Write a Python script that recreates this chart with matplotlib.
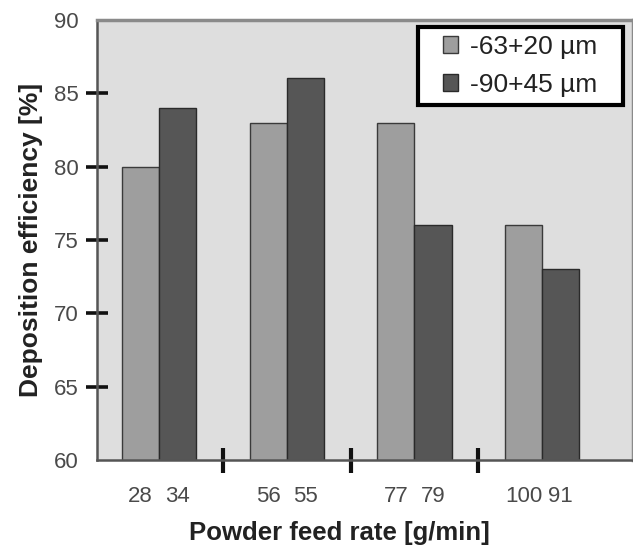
import matplotlib
matplotlib.use("Agg")
import matplotlib.pyplot as plt
from matplotlib.patches import Rectangle
import numpy as np

groups = [0, 1, 2, 3]
fine_values = [80, 83, 83, 76]
coarse_values = [84, 86, 76, 73]
fine_rates = ["28", "56", "77", "100"]
coarse_rates = ["34", "55", "79", "91"]
series_labels = ["-63+20 µm", "-90+45 µm"]
yticks = [60, 65, 70, 75, 80, 85, 90]

plt.rcParams['font.family'] = ['Liberation Sans', 'DejaVu Sans']

fig = plt.figure(figsize=(6.33, 5.49), dpi=100)
ax = fig.add_axes([0.153, 0.162, 0.847, 0.802])
ax.set_facecolor('#dedede')

w = 0.29
x = np.array(groups, dtype=float)
ax.bar(x - w / 2, fine_values, w, color='#9e9e9e', edgecolor='#3a3a3a', linewidth=1.0,
       label=series_labels[0], zorder=2)
ax.bar(x + w / 2, coarse_values, w, color='#565656', edgecolor='#2a2a2a', linewidth=1.0,
       label=series_labels[1], zorder=2)

ax.set_ylim(60, 90)
ax.set_xlim(-0.485, 3.71)

ax.set_yticks(yticks)
ax.set_yticklabels([str(v) for v in yticks])
ax.tick_params(axis='y', direction='inout', length=16, width=2.6, color='#111111',
               labelsize=16, labelcolor='#4a4a4a', pad=5)
yt = ax.yaxis.get_major_ticks()
yt[0].tick1line.set_visible(False)
yt[-1].tick1line.set_visible(False)

pos = list(x - w / 2) + list(x + w / 2)
labs = fine_rates + coarse_rates
ax.set_xticks(pos)
ax.set_xticklabels(labs)
ax.tick_params(axis='x', which='major', length=0, labelsize=16, labelcolor='#4a4a4a', pad=19)
ax.set_xticks([0.5, 1.5, 2.5], minor=True)
ax.tick_params(axis='x', which='minor', direction='inout', length=18, width=3, color='#111111')

for s in ['left', 'bottom']:
    ax.spines[s].set_color('#555555')
    ax.spines[s].set_linewidth(1.8)
for s in ['top', 'right']:
    ax.spines[s].set_color('#8a8a8a')
    ax.spines[s].set_linewidth(2.5)

ax.set_xlabel('Powder feed rate [g/min]', fontsize=18.5, fontweight='bold', color='#222222')
ax.xaxis.set_label_coords(0.453, -0.139)
ax.set_ylabel('Deposition efficiency [%]', fontsize=19, fontweight='bold', color='#222222')
ax.yaxis.set_label_coords(-0.10, 0.5)

# legend box
ax.add_patch(Rectangle((0.599, 0.807), 0.382, 0.177, transform=ax.transAxes,
                       facecolor='white', edgecolor='black', linewidth=3, zorder=4))
leg = ax.legend(loc='center left', bbox_to_anchor=(0.645, 0.8955), fontsize=19, frameon=False,
                handlelength=0.6, handleheight=0.6, handletextpad=0.45, borderpad=0,
                borderaxespad=0, labelspacing=0.54, labelcolor='#222222')
leg.set_zorder(5)

fig.savefig('out.png', dpi=100)
